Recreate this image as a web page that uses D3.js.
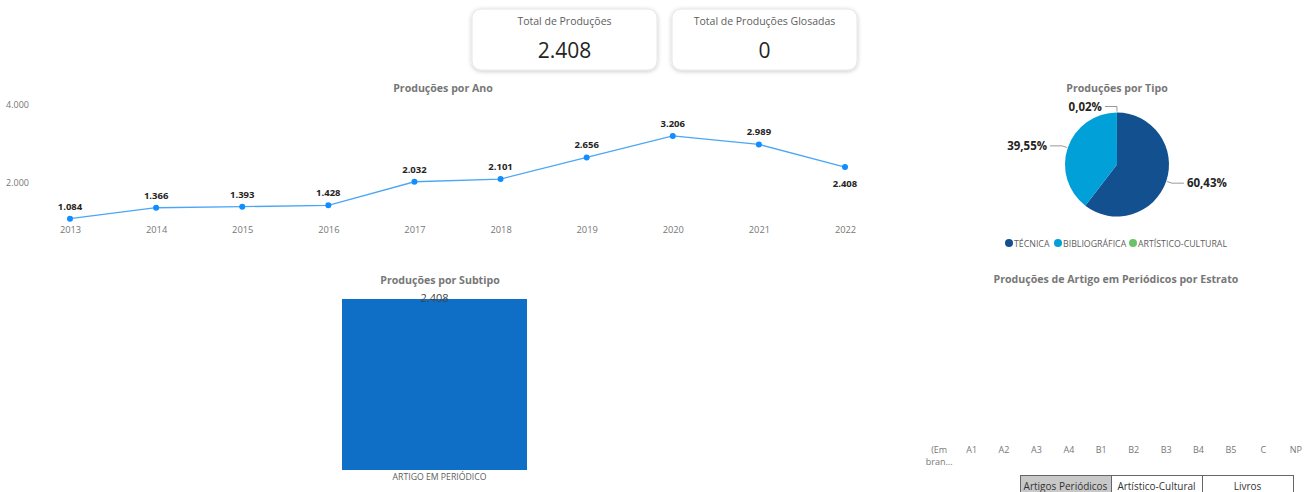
<!DOCTYPE html>
<html>
<head>
<meta charset="utf-8">
<script src="https://cdn.jsdelivr.net/npm/d3@7"></script>
<style>
  body { margin: 0; background: #fff; }
  text { font-family: "Segoe UI", "Open Sans", "Noto Sans", sans-serif; }
</style>
</head>
<body>
<svg id="chart" width="1314" height="492"></svg>
<script>
// ---- data ----
var cardTitles = ["Total de Produções", "Total de Produções Glosadas"];
var cardValues = [2408, 0];

var years = ["2013","2014","2015","2016","2017","2018","2019","2020","2021","2022"];
var yearValues = [1084, 1366, 1393, 1428, 2032, 2101, 2656, 3206, 2989, 2408];
var yearTicks = [2000, 4000];

var tipos = ["TÉCNICA", "BIBLIOGRÁFICA", "ARTÍSTICO-CULTURAL"];
var tipoShares = [60.43, 39.55, 0.02];
var tipoColors = ["#12508f", "#01a0d8", "#6cc26c"];

var subtipos = ["ARTIGO EM PERIÓDICO"];
var subtipoValues = [2408];

var estratos = ["(Em bran...", "A1", "A2", "A3", "A4", "B1", "B2", "B3", "B4", "B5", "C", "NP"];
var botoes = ["Artigos Periódicos", "Artístico-Cultural", "Livros"];

var pt = d3.formatLocale({decimal: ",", thousands: ".", grouping: [3], currency: ["R$", ""]});
var fmtInt = pt.format(",d");
var fmtPct = function(v){ return pt.format(".2f")(v) + "%"; };

var svg = d3.select("#chart");

var defs = svg.append("defs");
var shadow = defs.append("filter").attr("id", "shadow")
	.attr("x", "-10%").attr("y", "-20%").attr("width", "120%").attr("height", "150%");
shadow.append("feDropShadow").attr("dx", 0).attr("dy", 1).attr("stdDeviation", 2)
	.attr("flood-color", "#000").attr("flood-opacity", 0.22);

//KPI cards
var cardX = d3.scaleBand().domain(cardTitles).range([472, 857]).paddingInner(0.075);
cardTitles.forEach(function(t, i){
	var g = svg.append("g").attr("transform", "translate(" + cardX(t) + ",9)");
	g.append("rect").attr("width", cardX.bandwidth()).attr("height", 61).attr("rx", 9)
		.attr("fill", "#fff").attr("stroke", "#e6e6e6").attr("filter", "url(#shadow)");
	g.append("text").attr("x", cardX.bandwidth() / 2).attr("y", 16).attr("text-anchor", "middle")
		.attr("font-size", "10.5px").attr("fill", "#605e5c").text(t);
	g.append("text").attr("x", cardX.bandwidth() / 2).attr("y", 49).attr("text-anchor", "middle")
		.attr("font-size", "21px").attr("fill", "#252423").text(fmtInt(cardValues[i]));
});

function title(x, y, txt){
	svg.append("text").attr("x", x).attr("y", y).attr("text-anchor", "middle")
		.attr("font-size", "10.6px").attr("font-weight", "bold").attr("fill", "#777")
		.text(txt);
}

// ---- line chart: Produções por Ano ----
title(443, 92, "Produções por Ano");
var x = d3.scalePoint().domain(years).range([70, 845]);
var y = d3.scaleLinear().domain([1000, 4000]).range([222, 105]);

var yAxis = svg.append("g").attr("transform", "translate(29,0)")
	.call(d3.axisLeft(y).tickValues(yearTicks).tickSize(0).tickPadding(0).tickFormat(fmtInt));
yAxis.select(".domain").remove();
yAxis.selectAll("text").attr("font-size", "9px").attr("fill", "#777").attr("font-family", null);

var xAxis = svg.append("g").attr("transform", "translate(0,224)")
	.call(d3.axisBottom(x).tickSize(0).tickPadding(2));
xAxis.select(".domain").remove();
xAxis.selectAll("text").attr("font-size", "9.3px").attr("fill", "#777").attr("font-family", null);

var line = d3.line().x(function(d, i){ return x(years[i]); }).y(function(d){ return y(d); });
svg.append("path").datum(yearValues).attr("d", line)
	.attr("fill", "none").attr("stroke", "#4aa6f7").attr("stroke-width", 1.3);
svg.selectAll(".dot").data(yearValues).enter().append("circle")
	.attr("class", "dot")
	.attr("cx", function(d, i){ return x(years[i]); })
	.attr("cy", function(d){ return y(d); })
	.attr("r", 3).attr("fill", "#118dff");
svg.selectAll(".ylab").data(yearValues).enter().append("text")
	.attr("class", "ylab")
	.attr("x", function(d, i){ return x(years[i]); })
	.attr("y", function(d, i){ return i == years.length - 1 ? y(d) + 20 : y(d) - 9; })
	.attr("text-anchor", "middle").attr("font-size", "9.5px").attr("font-weight", "bold")
	.attr("fill", "#252423")
	.text(function(d){ return fmtInt(d); });

// ---- pie: Produções por Tipo ----
title(1117, 92, "Produções por Tipo");
var cx = 1117, cy = 164.5, r = 52;
var pie = d3.pie().sort(null).value(function(d){ return d; });
var arcs = pie(tipoShares);
var arc = d3.arc().innerRadius(0).outerRadius(r);
var pg = svg.append("g").attr("transform", "translate(" + cx + "," + cy + ")");
pg.selectAll("path").data(arcs).enter().append("path")
	.attr("d", arc).attr("fill", function(d, i){ return tipoColors[i]; });

arcs.forEach(function(a, i){
	var m = (a.startAngle + a.endAngle) / 2;
	var p0 = [Math.sin(m) * (r + 1), -Math.cos(m) * (r + 1)];
	var p1 = [Math.sin(m) * (r + 6), -Math.cos(m) * (r + 6)];
	var left = Math.sin(m) < 0.01 ? true : false;
	var p2 = [p1[0] + (left ? -12 : 12), p1[1]];
	pg.append("polyline").attr("points", [p0, p1, p2].map(function(p){ return p.join(","); }).join(" "))
		.attr("fill", "none").attr("stroke", "#999").attr("stroke-width", 1);
	pg.append("text").attr("x", p2[0] + (left ? -3 : 3)).attr("y", p2[1] + 4)
		.attr("text-anchor", left ? "end" : "start")
		.attr("font-size", "11.5px").attr("font-weight", "bold").attr("fill", "#252423")
		.text(fmtPct(a.data));
});

var legX = [1009, 1058, 1133];
tipos.forEach(function(t, i){
	svg.append("circle").attr("cx", legX[i]).attr("cy", 243).attr("r", 4).attr("fill", tipoColors[i]);
	svg.append("text").attr("x", legX[i] + 5).attr("y", 246.5)
		.attr("font-size", "8.8px").attr("fill", "#605e5c").text(t);
});

// ---- bar: Produções por Subtipo ----
title(440, 284, "Produções por Subtipo");
var bx = d3.scaleBand().domain(subtipos).range([342, 527]);
var by = d3.scaleLinear().domain([0, d3.max(subtipoValues)]).range([470, 299]);
svg.selectAll(".bar").data(subtipoValues).enter().append("rect")
	.attr("class", "bar")
	.attr("x", function(d, i){ return bx(subtipos[i]); })
	.attr("y", function(d){ return by(d); })
	.attr("width", bx.bandwidth())
	.attr("height", function(d){ return by(0) - by(d); })
	.attr("fill", "#0f6fc6");
svg.selectAll(".blab").data(subtipoValues).enter().append("text")
	.attr("x", function(d, i){ return bx(subtipos[i]) + bx.bandwidth() / 2; })
	.attr("y", function(d){ return by(d) + 3; })
	.attr("text-anchor", "middle").attr("font-size", "11px").attr("fill", "#444")
	.text(function(d){ return fmtInt(d); });
var bAxis = svg.append("g").attr("transform", "translate(5,472)")
	.call(d3.axisBottom(bx).tickSize(0).tickPadding(2));
bAxis.select(".domain").remove();
bAxis.selectAll("text").attr("font-size", "8.7px").attr("fill", "#605e5c").attr("font-family", null);

// ---- Estrato (empty) ----
title(1116, 283, "Produções de Artigo em Periódicos por Estrato");
var ex = d3.scaleBand().domain(estratos).range([923, 1312]);
var eAxis = svg.append("g").attr("transform", "translate(0,441)")
	.call(d3.axisBottom(ex).tickSize(0).tickPadding(2).tickFormat(function(){ return ""; }));
eAxis.select(".domain").remove();
eAxis.selectAll(".tick").each(function(d){
	var parts = d.indexOf(" ") > 0 ? d.split(" ") : [d];
	var t = d3.select(this).append("text").attr("text-anchor", "middle")
		.attr("font-size", "9px").attr("fill", "#777");
	parts.forEach(function(p, k){
		t.append("tspan").attr("x", 0).attr("y", 12 + k * 12).text(p);
	});
});

// buttons
var bt = d3.scaleBand().domain(botoes).range([1020, 1293]);
botoes.forEach(function(b, i){
	svg.append("rect").attr("x", bt(b) + 0.5).attr("y", 475.5)
		.attr("width", bt.bandwidth()).attr("height", 22)
		.attr("fill", i == 0 ? "#c8c8c8" : "#fff").attr("stroke", "#666");
	svg.append("text").attr("x", bt(b) + bt.bandwidth() / 2).attr("y", 490)
		.attr("text-anchor", "middle").attr("font-size", "10px").attr("fill", "#333").text(b);
});
</script>
</body>
</html>
